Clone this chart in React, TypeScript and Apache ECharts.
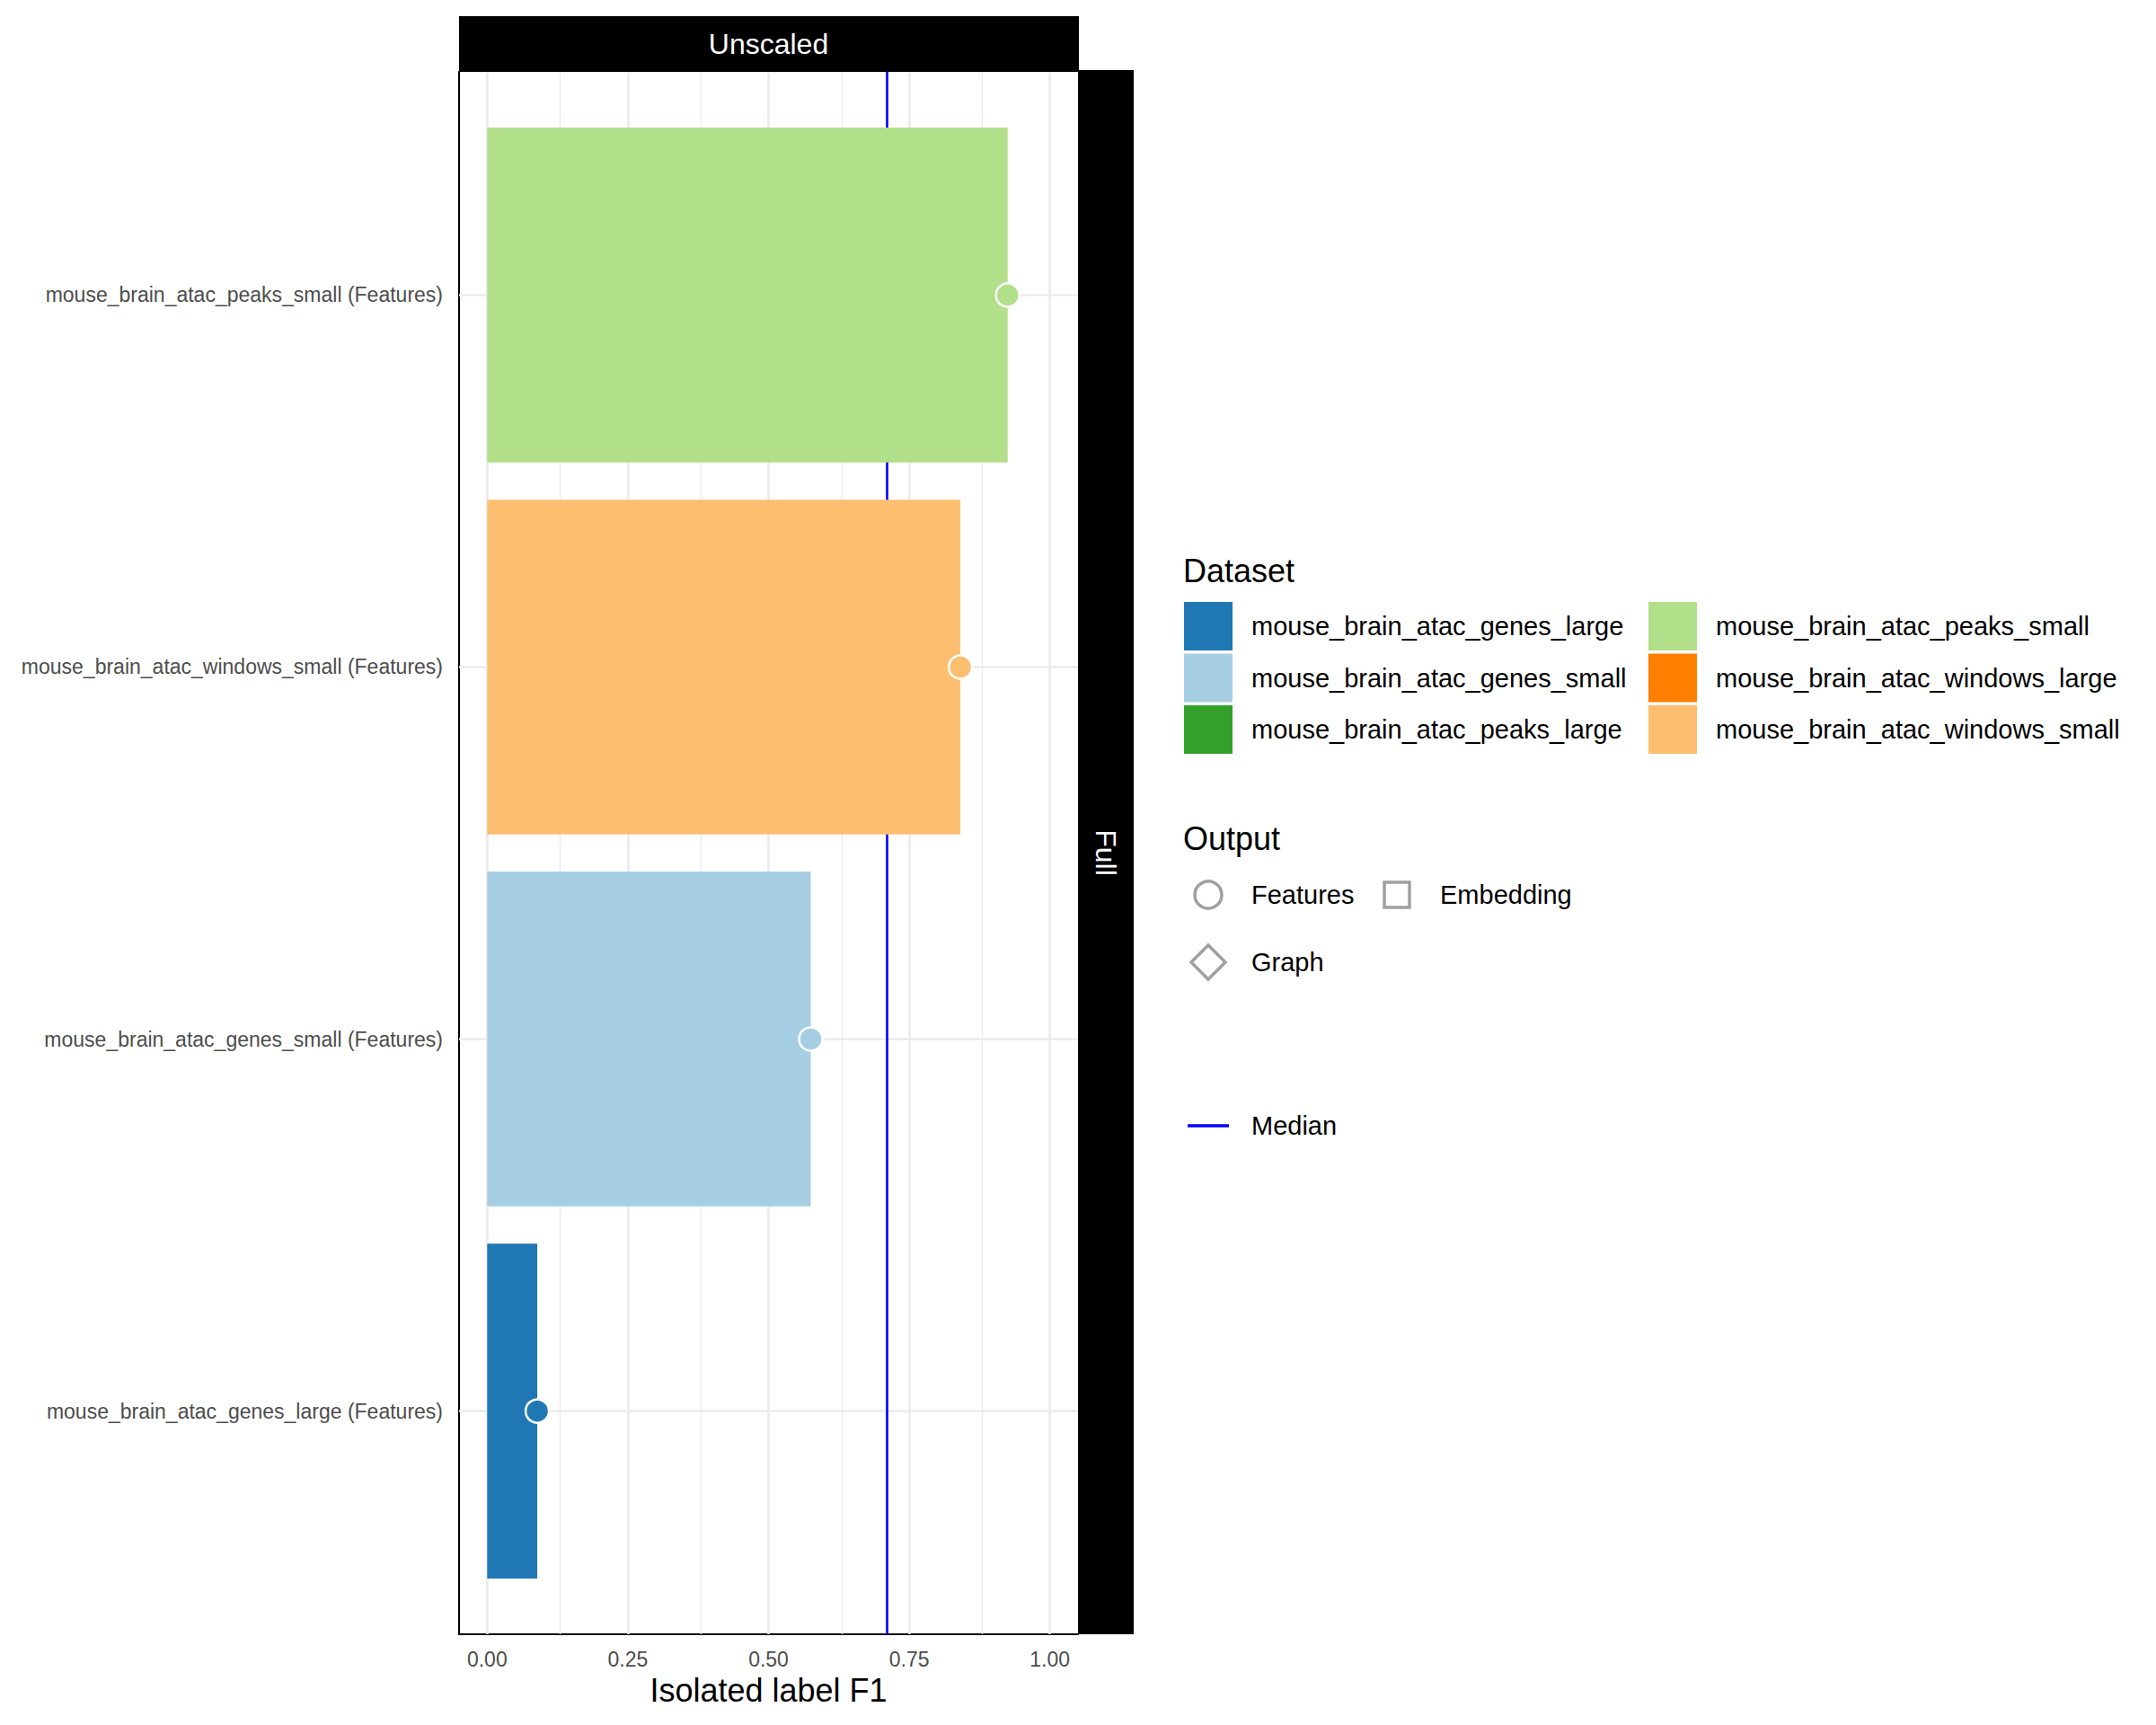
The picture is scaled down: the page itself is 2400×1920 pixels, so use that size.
import React, { useEffect, useRef } from "react";
import * as echarts from "echarts";

// ---- data ----
const categories = [
  "mouse_brain_atac_genes_large (Features)",
  "mouse_brain_atac_genes_small (Features)",
  "mouse_brain_atac_windows_small (Features)",
  "mouse_brain_atac_peaks_small (Features)",
];
const barDatasets = [
  "mouse_brain_atac_genes_large",
  "mouse_brain_atac_genes_small",
  "mouse_brain_atac_windows_small",
  "mouse_brain_atac_peaks_small",
];
const scores = [0.089, 0.575, 0.841, 0.925];
const medianScore = 0.708;

const legendDatasets = [
  "mouse_brain_atac_genes_large",
  "mouse_brain_atac_genes_small",
  "mouse_brain_atac_peaks_large",
  "mouse_brain_atac_peaks_small",
  "mouse_brain_atac_windows_large",
  "mouse_brain_atac_windows_small",
];
const legendColors = ["#1F78B4", "#A6CEE3", "#33A02C", "#B2DF8A", "#FF7F00", "#FDBF6F"];
const outputTypes = ["Features", "Embedding", "Graph"];
const xMajorTicks = [0, 0.25, 0.5, 0.75, 1];
const xMinorTicks = [0.125, 0.375, 0.625, 0.875];
const facetTop = "Unscaled";
const facetRight = "Full";
const xTitle = "Isolated label F1";

const FONT = '"Liberation Sans", Arial, Helvetica, sans-serif';

export default function App() {
  const ref = useRef<HTMLDivElement>(null);

  useEffect(() => {
    if (!ref.current) return;
    const chart = echarts.init(ref.current, undefined, { renderer: "svg" });

    const colorIdx = barDatasets.map((d) => legendColors[legendDatasets.indexOf(d)]);
    const barData = scores.map((v, i) => [v, i + 1, i]);
    const pointData = scores.map((v, i) => ({
      value: [v, i + 1],
      itemStyle: { color: colorIdx[i] },
    }));

    const gridLines: any[] = [
      ...xMinorTicks.map((v) => ({ xAxis: v, lineStyle: { color: "#EBEBEB", width: 1.3, type: "solid" } })),
      ...xMajorTicks.map((v) => ({ xAxis: v, lineStyle: { color: "#EBEBEB", width: 2.6, type: "solid" } })),
      ...categories.map((_, i) => ({ yAxis: i + 1, lineStyle: { color: "#EBEBEB", width: 2.6, type: "solid" } })),
      { xAxis: medianScore, lineStyle: { color: "#0000FF", width: 2.6, type: "solid" } },
    ];

    const graphics: any[] = [];
    // strips
    graphics.push({ type: "rect", shape: { x: 511, y: 18, width: 690, height: 62 }, style: { fill: "#000" } });
    graphics.push({
      type: "text", x: 855.5, y: 49,
      style: { text: facetTop, fill: "#fff", fontSize: 32, fontFamily: FONT, align: "center", verticalAlign: "middle" },
    });
    graphics.push({ type: "rect", shape: { x: 1200, y: 78, width: 62, height: 1741 }, style: { fill: "#000" } });
    graphics.push({
      type: "text", x: 1231, y: 949, rotation: -Math.PI / 2,
      style: { text: facetRight, fill: "#fff", fontSize: 32, fontFamily: FONT, align: "center", verticalAlign: "middle" },
    });

    // Dataset legend
    graphics.push({
      type: "text", x: 1317, y: 635,
      style: { text: "Dataset", fill: "#000", fontSize: 36, fontFamily: FONT, align: "left", verticalAlign: "middle" },
    });
    legendDatasets.forEach((d, i) => {
      const col = Math.floor(i / 3);
      const row = i % 3;
      const kx = col === 0 ? 1318 : 1835;
      const ky = 670 + row * 57.5;
      graphics.push({ type: "rect", shape: { x: kx, y: ky, width: 54, height: 54 }, style: { fill: legendColors[i] } });
      graphics.push({
        type: "text", x: kx + 75, y: ky + 27,
        style: { text: d, fill: "#000", fontSize: 29, fontFamily: FONT, align: "left", verticalAlign: "middle" },
      });
    });

    // Output legend
    graphics.push({
      type: "text", x: 1317, y: 933,
      style: { text: "Output", fill: "#000", fontSize: 36, fontFamily: FONT, align: "left", verticalAlign: "middle" },
    });
    const keyGrey = "#A0A0A0";
    graphics.push({ type: "circle", shape: { cx: 1345, cy: 996, r: 15 }, style: { fill: "transparent", stroke: keyGrey, lineWidth: 3.5 } });
    graphics.push({ type: "rect", shape: { x: 1541, y: 982, width: 28, height: 28 }, style: { fill: "transparent", stroke: keyGrey, lineWidth: 3.5 } });
    graphics.push({
      type: "polygon",
      shape: { points: [[1345, 1052], [1364, 1071], [1345, 1090], [1326, 1071]] },
      style: { fill: "transparent", stroke: keyGrey, lineWidth: 3.5 },
    });
    const outPos = [[1393, 996], [1603, 996], [1393, 1071]];
    outputTypes.forEach((t, i) => {
      graphics.push({
        type: "text", x: outPos[i][0], y: outPos[i][1],
        style: { text: t, fill: "#000", fontSize: 29, fontFamily: FONT, align: "left", verticalAlign: "middle" },
      });
    });
    // Median legend
    graphics.push({ type: "line", shape: { x1: 1322, y1: 1253, x2: 1368, y2: 1253 }, style: { stroke: "#0000FF", lineWidth: 3.5 } });
    graphics.push({
      type: "text", x: 1393, y: 1253,
      style: { text: "Median", fill: "#000", fontSize: 29, fontFamily: FONT, align: "left", verticalAlign: "middle" },
    });

    const option: any = {
      animation: false,
      backgroundColor: "#fff",
      textStyle: { fontFamily: FONT },
      grid: { left: 511, top: 80, width: 689, height: 1739, containLabel: false, outerBoundsMode: "none" },
      xAxis: {
        type: "value",
        min: -0.05,
        max: 1.05,
        interval: 0.025,
        axisLine: { show: true, onZero: false, lineStyle: { color: "#000", width: 2 } },
        axisTick: { show: false },
        splitLine: { show: false },
        axisLabel: {
          fontSize: 23,
          color: "#4D4D4D",
          margin: 16,
          formatter: (v: number) => {
            const k = Math.round(v * 4);
            if (Math.abs(v * 4 - k) < 1e-6 && k >= 0 && k <= 4) return (k / 4).toFixed(2);
            return "";
          },
        },
        name: xTitle,
        nameLocation: "middle",
        nameGap: 44,
        nameTextStyle: { fontSize: 36, color: "#000", fontFamily: FONT },
      },
      yAxis: {
        type: "value",
        min: 0.4,
        max: 4.6,
        interval: 0.2,
        axisLine: { show: true, onZero: false, lineStyle: { color: "#000", width: 2 } },
        axisTick: { show: false },
        splitLine: { show: false },
        axisLabel: {
          fontSize: 23,
          color: "#4D4D4D",
          margin: 18,
          formatter: (v: number) => {
            const k = Math.round(v);
            if (Math.abs(v - k) < 1e-6 && k >= 1 && k <= categories.length) return categories[k - 1];
            return "";
          },
        },
      },
      graphic: graphics,
      series: [
        {
          type: "line",
          data: [],
          z: 1,
          silent: true,
          markLine: {
            silent: true,
            z: 1,
            symbol: ["none", "none"],
            label: { show: false },
            data: gridLines,
          },
        },
        {
          type: "custom",
          z: 3,
          data: barData,
          encode: { x: 0, y: 1 },
          renderItem: (params: any, api: any) => {
            const v = api.value(0);
            const y = api.value(1);
            const ci = api.value(2);
            const p0 = api.coord([0, y]);
            const p1 = api.coord([v, y]);
            const h = api.size([0, 0.9])[1];
            return {
              type: "rect",
              shape: { x: p0[0], y: p0[1] - h / 2, width: p1[0] - p0[0], height: h },
              style: { fill: colorIdx[ci] },
            };
          },
        },
        {
          type: "scatter",
          z: 4,
          data: pointData,
          symbol: "circle",
          symbolSize: 26,
          itemStyle: { borderColor: "#fff", borderWidth: 2.5, opacity: 1 },
        },
      ],
    };

    chart.setOption(option);
    return () => chart.dispose();
  }, []);

  return (
    <div
      ref={ref}
      style={{ position: "fixed", left: 0, top: 0, width: 2400, height: 1920, background: "#fff" }}
    />
  );
}
